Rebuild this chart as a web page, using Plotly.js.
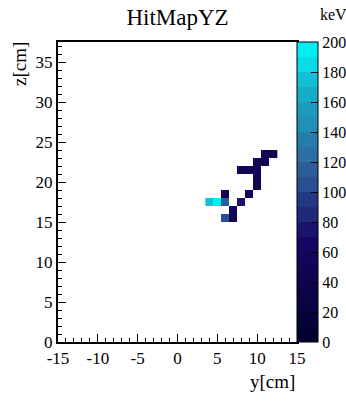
<!DOCTYPE html>
<html>
<head>
<meta charset="utf-8">
<script src="https://cdn.plot.ly/plotly-3.0.1.min.js"></script>
<style>
  html, body { margin: 0; padding: 0; background: #fff; }
  #chart { width: 346px; height: 405px; }
</style>
</head>
<body>
<div id="chart"></div>
<script>
// Hit positions (bin centres, cm) and deposited energy (keV)
const hitY = [11, 12, 10, 11, 8, 9, 10, 10, 10, 6, 9, 4, 5, 6, 8, 7, 6, 7];
const hitZ = [23.5, 23.5, 22.5, 22.5, 21.5, 21.5, 21.5, 20.5, 19.5, 18.5, 18.5, 17.5, 17.5, 17.5, 17.5, 16.5, 15.5, 15.5];
const hitE = [45, 40, 45, 45, 45, 50, 55, 45, 40, 45, 50, 175, 200, 115, 70, 50, 105, 45];

// Axis and colour bar tick labels
const yTicks = [-15, -10, -5, 0, 5, 10, 15];
const zTicks = [0, 5, 10, 15, 20, 25, 30, 35];
const energyTicks = [0, 20, 40, 60, 80, 100, 120, 140, 160, 180, 200];

// Build the 2D bin grid covering the hits; empty bins stay null
const yMin = Math.min(...hitY), yMax = Math.max(...hitY);
const zMin = Math.min(...hitZ), zMax = Math.max(...hitZ);
const gridY = [], gridZ = [];
for (let v = yMin; v <= yMax + 1e-9; v += 1) gridY.push(v);
for (let v = zMin; v <= zMax + 1e-9; v += 1) gridZ.push(v);
const grid = gridZ.map(() => gridY.map(() => null));
hitE.forEach((e, i) => {
  const c = Math.round(hitY[i] - yMin);
  const r = Math.round(hitZ[i] - zMin);
  grid[r][c] = e;
});

// "Deep sea" gradient, 50 colours, sampled into 20 contour bands
function deepSea(n) {
  const stops = [0.00, 0.34, 0.61, 0.84, 1.00];
  const red   = [0.00, 0.09, 0.18, 0.09, 0.00];
  const green = [0.01, 0.02, 0.39, 0.68, 0.97];
  const blue  = [0.17, 0.39, 0.62, 0.79, 0.97];
  const out = [];
  for (let g = 1; g < stops.length; g++) {
    const nc = Math.floor(stops[g] * n) - Math.floor(stops[g - 1] * n);
    for (let c = 0; c < nc; c++) {
      const f = c / nc;
      const r = red[g - 1] + f * (red[g] - red[g - 1]);
      const gg = green[g - 1] + f * (green[g] - green[g - 1]);
      const b = blue[g - 1] + f * (blue[g] - blue[g - 1]);
      out.push(`rgb(${Math.round(r * 255)},${Math.round(gg * 255)},${Math.round(b * 255)})`);
    }
  }
  while (out.length < n) out.push(`rgb(${Math.round(red[4]*255)},${Math.round(green[4]*255)},${Math.round(blue[4]*255)})`);
  return out;
}
const palette = deepSea(50);
const nBands = 20;
const colorscale = [];
for (let i = 0; i < nBands; i++) {
  const idx = Math.min(49, Math.floor((i + 0.99) * palette.length / nBands));
  colorscale.push([i / nBands, palette[idx]]);
  colorscale.push([(i + 1) / nBands, palette[idx]]);
}

const serif = 'Liberation Serif';
const label = v => String(v).replace('\u2212', '-');

const trace = {
  type: 'heatmap',
  x: gridY,
  y: gridZ,
  z: grid,
  zmin: 0,
  zmax: 200,
  zsmooth: false,
  colorscale: colorscale,
  hoverongaps: false,
  colorbar: {
    thickness: 21, thicknessmode: 'pixels',
    len: 1, lenmode: 'fraction',
    x: 1, xref: 'paper', xanchor: 'left', xpad: 0,
    y: 0.5, yanchor: 'middle', ypad: 0,
    outlinewidth: 1, outlinecolor: '#000',
    tickmode: 'array', tickvals: energyTicks, ticktext: energyTicks.map(label),
    ticks: 'inside', ticklen: 7, tickwidth: 1, tickcolor: '#000',
    tickfont: { family: serif, size: 16, color: '#000' }
  }
};

const axisCommon = {
  showgrid: false, zeroline: false,
  showline: true, linewidth: 2, linecolor: '#000', mirror: true,
  ticks: 'inside', ticklen: 8, tickwidth: 1, tickcolor: '#000',
  minor: { ticks: 'inside', dtick: 1, ticklen: 4, tickwidth: 1, tickcolor: '#000' },
  tickfont: { family: serif, size: 17, color: '#000' },
  fixedrange: true
};

const layout = {
  width: 346, height: 405,
  font: { family: serif, size: 17, color: '#000' },
  margin: { l: 58, r: 49, t: 42, b: 63, pad: 0, autoexpand: false },
  paper_bgcolor: '#fff', plot_bgcolor: '#fff',
  title: {
    text: 'HitMapYZ',
    font: { family: serif, size: 23, color: '#000' },
    xref: 'paper', x: 0.5, xanchor: 'center',
    yref: 'container', y: 0.958, yanchor: 'middle'
  },
  xaxis: Object.assign({}, axisCommon, {
    range: [-15, 15], tickmode: 'array', tickvals: yTicks, ticktext: yTicks.map(label)
  }),
  yaxis: Object.assign({}, axisCommon, {
    range: [0, 37.5], tickmode: 'array', tickvals: zTicks, ticktext: zTicks.map(label)
  }),
  showlegend: false,
  annotations: [
    { text: 'y[cm]', xref: 'paper', yref: 'paper', x: 1, y: -0.133,
      xanchor: 'right', yanchor: 'middle', showarrow: false,
      font: { family: serif, size: 19, color: '#000' } },
    { text: 'z[cm]', xref: 'paper', yref: 'paper', x: -0.159, y: 1.007,
      xanchor: 'center', yanchor: 'top', textangle: -90, showarrow: false,
      font: { family: serif, size: 19, color: '#000' } },
    { text: 'keV', xref: 'paper', yref: 'paper', x: 1.088, y: 1.09,
      xanchor: 'left', yanchor: 'middle', showarrow: false,
      font: { family: serif, size: 16, color: '#000' } }
  ]
};

Plotly.newPlot('chart', [trace], layout, { displayModeBar: false, staticPlot: true });
</script>
</body>
</html>
